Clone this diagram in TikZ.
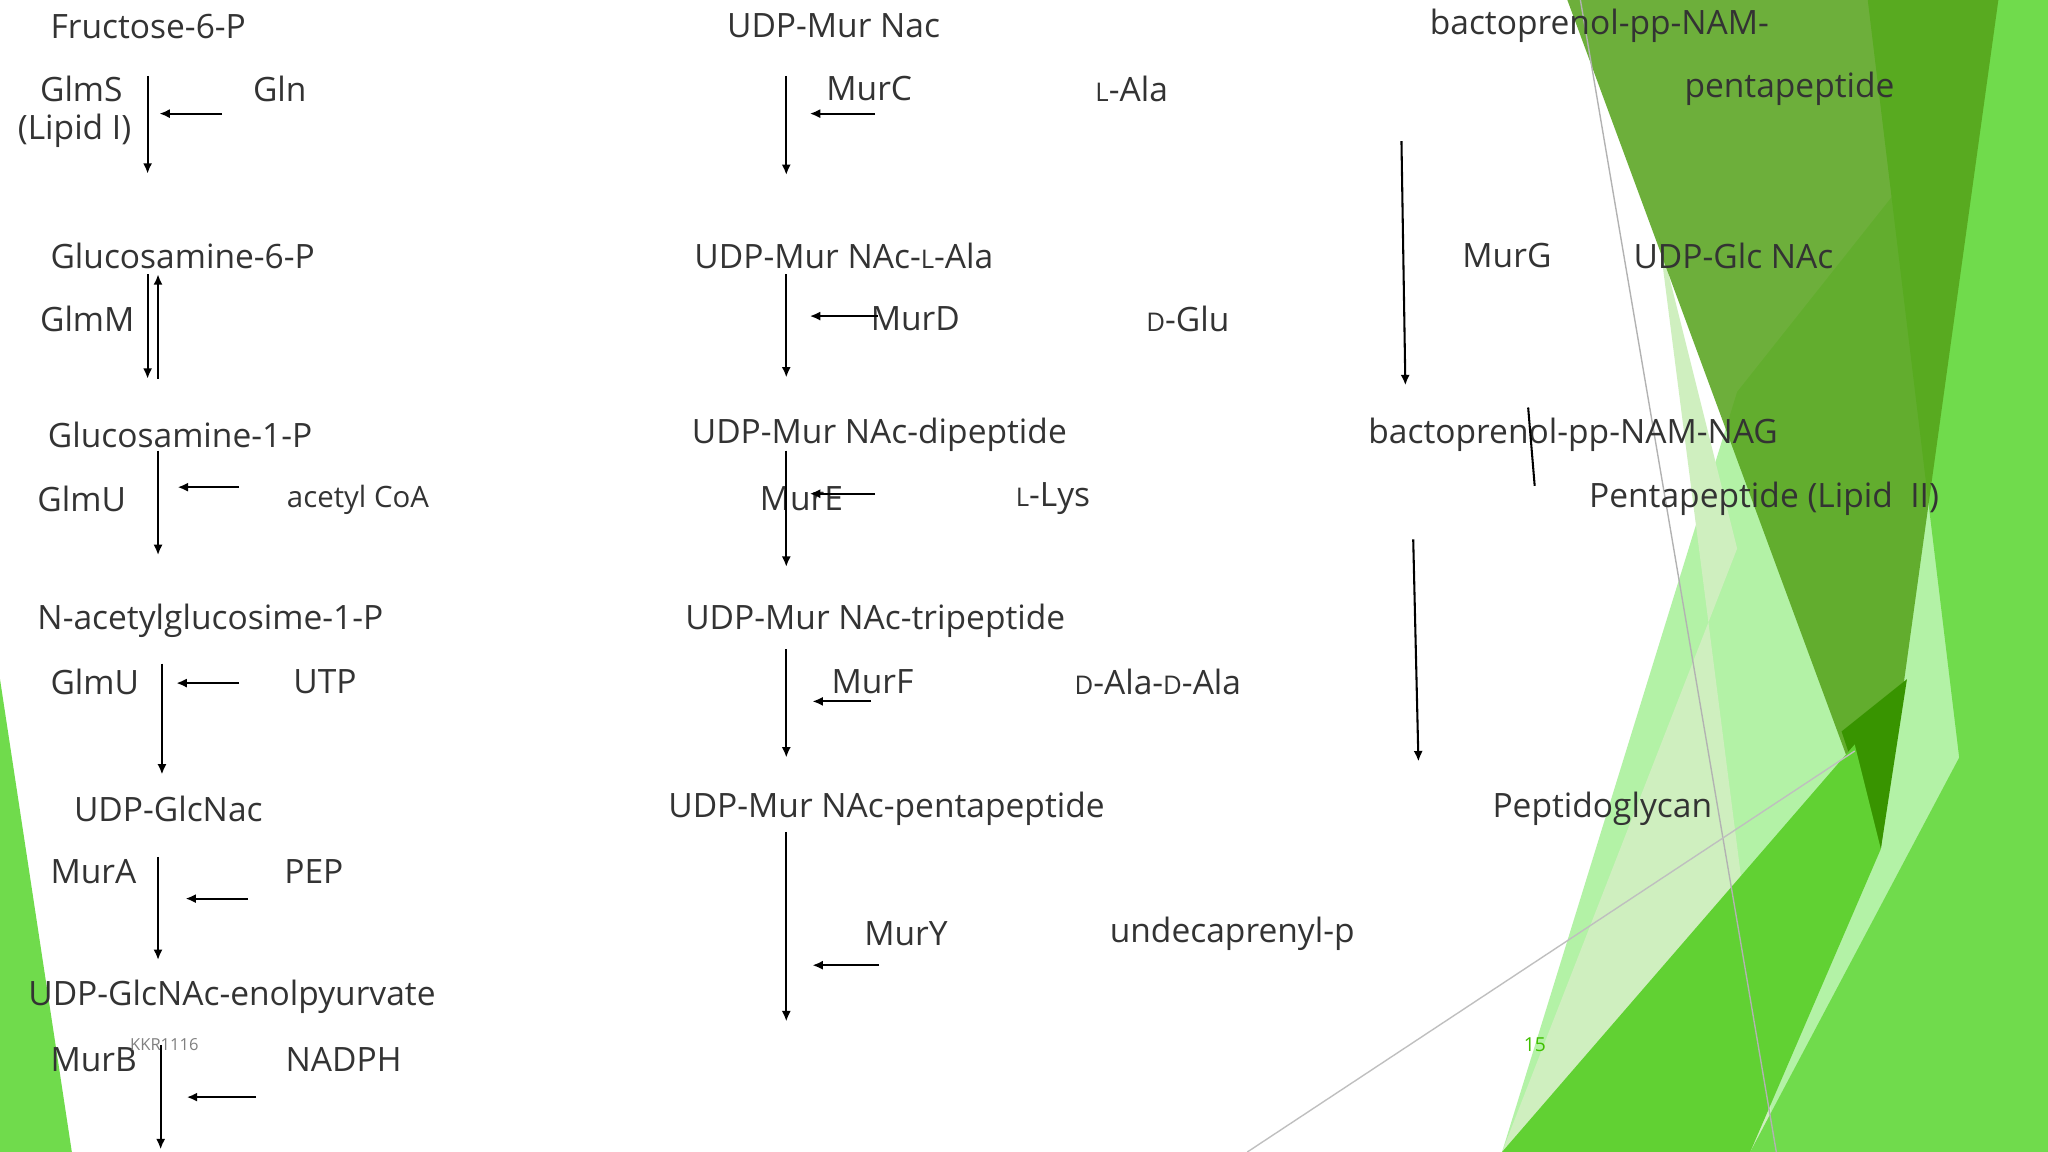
\documentclass[tikz,border=0pt]{standalone}
\usepackage{fontspec}
\setmainfont{Open Sans}
\usetikzlibrary{arrows.meta}
\tikzset{
 t/.style={anchor=west,inner sep=0pt,font=\fontsize{7.3}{8}\selectfont,text=black!80},
 arr/.style={-{Latex[length=0.8mm,width=0.7mm]},line width=0.45pt},
 ln/.style={line width=0.45pt}
}
\newcommand{\sm}[1]{{\fontsize{5.6}{6}\selectfont #1}}
\begin{document}
\begin{tikzpicture}[x=0.01cm,y=-0.01cm]
\useasboundingbox (0,0) rectangle (1568,882);
\fill[white] (0,0) rectangle (1568,882);
% background shapes
\fill[green!70!olive!35] (1330,300) -- (1568,0) -- (1568,882) -- (1150,882) -- cycle;
\fill[green!50!olive!25!white] (1270,180) -- (1360,882) -- (1150,882) -- (1330,420) -- cycle;
\fill[green!60!olive!70!white] (1430,0) -- (1568,0) -- (1568,882) -- (1340,882) -- (1500,580) -- cycle;
\fill[green!40!olive!85!black!90, opacity=0.85] (1200,0) -- (1530,0) -- (1440,650) -- cycle;
\fill[green!45!olive!80!black] (1410,560) -- (1460,520) -- (1440,650) -- cycle;
\fill[green!55!olive!80] (1150,882) -- (1420,570) -- (1440,650) -- (1340,882) -- cycle;
\fill[green!60!olive!70!white] (0,520) -- (55,882) -- (0,882) -- cycle;
\draw[gray!60,line width=0.3pt] (1210,0) -- (1360,882);
\draw[gray!50,line width=0.3pt] (955,882) -- (1420,575);
% left column
\node[t] (f6p) at (38,20) {Fructose-6-P};
\node[t] (glms) at (30,68) {GlmS};
\node[t] (lip1) at (13,100) {(Lipid I)};
\node[t] (gln) at (193,68) {Gln};
\draw[arr] (113,58) coordinate (a1) -- (113,133) coordinate (a2);
\draw[arr] (170,87) coordinate (a3) -- (122,87) coordinate (a4);
\node[t] (g6p) at (38,196) {Glucosamine-6-P};
\node[t] (glmm) at (30,244) {GlmM};
\draw[arr] (113,210) coordinate (b1) -- (113,290) coordinate (b2);
\draw[arr] (121,290) coordinate (b3) -- (121,210) coordinate (b4);
\node[t] (g1p) at (36,333) {Glucosamine-1-P};
\node[t] (glmu1) at (28,382) {GlmU};
\node[t,font=\fontsize{6.4}{7}\selectfont] (acoa) at (219,383) {acetyl CoA};
\draw[arr] (121,345) coordinate (c1) -- (121,425) coordinate (c2);
\draw[arr] (183,373) coordinate (c3) -- (136,373) coordinate (c4);
\node[t] (nag) at (28,475) {N-acetylglucosime-1-P};
\node[t] (glmu2) at (38,522) {GlmU};
\node[t] (utp) at (224,522) {UTP};
\draw[arr] (124,508) coordinate (d1) -- (124,593) coordinate (d2);
\draw[arr] (183,523) coordinate (d3) -- (135,523) coordinate (d4);
\node[t] (udpg) at (56,619) {UDP-GlcNac};
\node[t] (mura) at (38,667) {MurA};
\node[t] (pep) at (217,667) {PEP};
\draw[arr] (121,656) coordinate (e1) -- (121,735) coordinate (e2);
\draw[arr] (190,688) coordinate (e3) -- (142,688) coordinate (e4);
\node[t] (enol) at (21,763) {UDP-GlcNAc-enolpyurvate};
\node[t] (murb) at (38,811) {MurB};
\node[t] (nadph) at (218,811) {NADPH};
\node[t,font=\fontsize{3.6}{4}\selectfont,text=gray] (kkr) at (99,800) {KKR1116};
\draw[arr] (123,800) coordinate (f1) -- (123,880) coordinate (f2);
\draw[arr] (196,840) coordinate (f3) -- (143,840) coordinate (f4);
% middle column
\node[t] (m1) at (556,20) {UDP-Mur Nac};
\node[t] (murc) at (632,68) {MurC};
\node[t] (lala) at (838,68) {\sm{L}-Ala};
\draw[arr] (602,58) coordinate (g1) -- (602,134) coordinate (g2);
\draw[arr] (670,87) coordinate (g3) -- (620,87) coordinate (g4);
\node[t] (m2) at (531,196) {UDP-Mur NAc-\sm{L}-Ala};
\node[t] (murd) at (666,244) {MurD};
\node[t] (dglu) at (877,244) {\sm{D}-Glu};
\draw[arr] (602,210) coordinate (h1) -- (602,289) coordinate (h2);
\draw[arr] (672,242) coordinate (h3) -- (620,242) coordinate (h4);
\node[t] (m3) at (529,333) {UDP-Mur NAc-dipeptide};
\node[t] (mure) at (581,382) {MurE};
\node[t] (llys) at (777,382) {\sm{L}-Lys};
\draw[arr] (602,345) coordinate (i1) -- (602,434) coordinate (i2);
\draw[arr] (670,378) coordinate (i3) -- (620,378) coordinate (i4);
\node[t] (m4) at (524,475) {UDP-Mur NAc-tripeptide};
\node[t] (murf) at (636,522) {MurF};
\node[t] (dala) at (822,522) {\sm{D}-Ala-\sm{D}-Ala};
\draw[arr] (602,497) coordinate (j1) -- (602,580) coordinate (j2);
\draw[arr] (667,537) coordinate (j3) -- (622,537) coordinate (j4);
\node[t] (m5) at (511,619) {UDP-Mur NAc-pentapeptide};
\node[t] (mury) at (661,715) {MurY};
\node[t] (undp) at (849,715) {undecaprenyl-p};
\draw[arr] (602,637) coordinate (k1) -- (602,782) coordinate (k2);
\draw[arr] (673,739) coordinate (k3) -- (622,739) coordinate (k4);
% right column
\node[t] (r1) at (1094,20) {bactoprenol-pp-NAM-};
\node[t] (r1b) at (1289,68) {pentapeptide};
\draw[arr] (1073,108) coordinate (l1) -- (1076,295) coordinate (l2);
\node[t] (murg) at (1119,196) {MurG};
\node[t] (udpglc) at (1250,196) {UDP-Glc NAc};
\node[t] (r2) at (1047,333) {bactoprenol-pp-NAM-NAG};
\node[t] (r2b) at (1216,382) {Pentapeptide (Lipid\ \ II)};
\draw[ln] (1170,312) coordinate (n1) -- (1175,372) coordinate (n2);
\draw[arr] (1082,413) coordinate (o1) -- (1086,583) coordinate (o2);
\node[t] (pg) at (1142,619) {Peptidoglycan};
\node[t,font=\fontsize{4.2}{5}\selectfont,text=green!50!olive] (pn) at (1166,800) {15};
\end{tikzpicture}
\end{document}
